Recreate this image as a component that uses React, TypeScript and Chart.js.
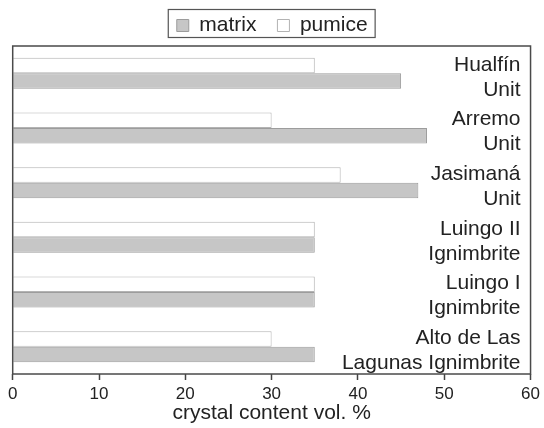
import React, { useEffect, useRef } from "react";
import { Chart, registerables } from "chart.js";

Chart.register(...registerables);

const categories: string[][] = [
  ["Hualfín", "Unit"],
  ["Arremo", "Unit"],
  ["Jasimaná", "Unit"],
  ["Luingo II", "Ignimbrite"],
  ["Luingo I", "Ignimbrite"],
  ["Alto de Las", "Lagunas Ignimbrite"],
];
const matrixValues = [45, 48, 47, 35, 35, 35];
const pumiceValues = [35, 30, 38, 35, 35, 30];
const xTickValues = [0, 10, 20, 30, 40, 50, 60];
const xTitle = "crystal content vol. %";

const FONT = "'Liberation Sans', Arial, Helvetica, sans-serif";

export default function App() {
  const ref = useRef<HTMLCanvasElement>(null);

  useEffect(() => {
    const canvas = ref.current;
    if (!canvas) return;

    const framePlugin = {
      id: "frame",
      afterDraw(chart: any) {
        const { ctx, chartArea } = chart;
        ctx.save();
        ctx.strokeStyle = "#4a4a4a";
        ctx.lineWidth = 1.5;
        ctx.strokeRect(
          chartArea.left,
          chartArea.top,
          chartArea.right - chartArea.left,
          chartArea.bottom - chartArea.top
        );
        const lg = chart.legend;
        if (lg && lg.legendHitBoxes && lg.legendHitBoxes.length) {
          const hb = lg.legendHitBoxes;
          const first = hb[0];
          const last = hb[hb.length - 1];
          const l = first.left - 8.5;
          const r = last.left + last.width + 7.5;
          const t = first.top - 5.5;
          const b = first.top + first.height + 1.5;
          ctx.strokeStyle = "#555";
          ctx.lineWidth = 1.2;
          ctx.strokeRect(l, t, r - l, b - t);
        }
        ctx.restore();
      },
    };

    const chart = new Chart(canvas, {
      type: "bar",
      data: {
        labels: categories,
        datasets: [
          {
            label: "pumice",
            data: pumiceValues,
            backgroundColor: "#ffffff",
            borderColor: "#b3b3b3",
            borderWidth: 1,
            categoryPercentage: 0.567,
            barPercentage: 1.0,
          },
          {
            label: "matrix",
            data: matrixValues,
            backgroundColor: "#c6c6c6",
            borderColor: "#9c9c9c",
            borderWidth: 1,
            categoryPercentage: 0.567,
            barPercentage: 1.0,
          },
        ],
      },
      options: {
        indexAxis: "y",
        animation: false,
        responsive: true,
        maintainAspectRatio: false,
        layout: { padding: { left: 12.7, right: 12.3, top: -6, bottom: 0 } },
        plugins: {
          legend: {
            position: "top",
            reverse: true,
            labels: {
              font: { family: FONT, size: 21 },
              color: "#222",
              boxWidth: 12,
              boxHeight: 12,
              padding: 21,
            },
          },
          tooltip: { enabled: false },
        },
        scales: {
          x: {
            type: "linear",
            min: 0,
            max: 60,
            afterBuildTicks: (s: any) => {
              s.ticks = xTickValues.map((v) => ({ value: v }));
            },
            afterFit: (s: any) => {
              s.height = 54;
            },
            grid: {
              drawOnChartArea: false,
              drawTicks: true,
              tickLength: 6,
              color: "#444",
              tickWidth: 1.5,
            },
            border: { display: false },
            ticks: {
              font: { family: FONT, size: 17 },
              color: "#222",
              padding: 4,
              maxRotation: 0,
            },
            title: {
              display: true,
              text: xTitle,
              font: { family: FONT, size: 21 },
              color: "#222",
              padding: { top: 0, bottom: 2 },
            },
          },
          y: {
            type: "category",
            position: "right",
            afterFit: (s: any) => {
              s.width = 0;
            },
            grid: { display: false },
            border: { display: false },
            ticks: {
              mirror: true,
              padding: -10,
              labelOffset: 4,
              font: { family: FONT, size: 21 },
              color: "#222",
            },
          },
        },
      },
      plugins: [framePlugin],
    } as any);

    return () => chart.destroy();
  }, []);

  return (
    <div style={{ position: "absolute", left: 0, top: 0, width: 544, height: 428 }}>
      <canvas ref={ref} />
    </div>
  );
}
